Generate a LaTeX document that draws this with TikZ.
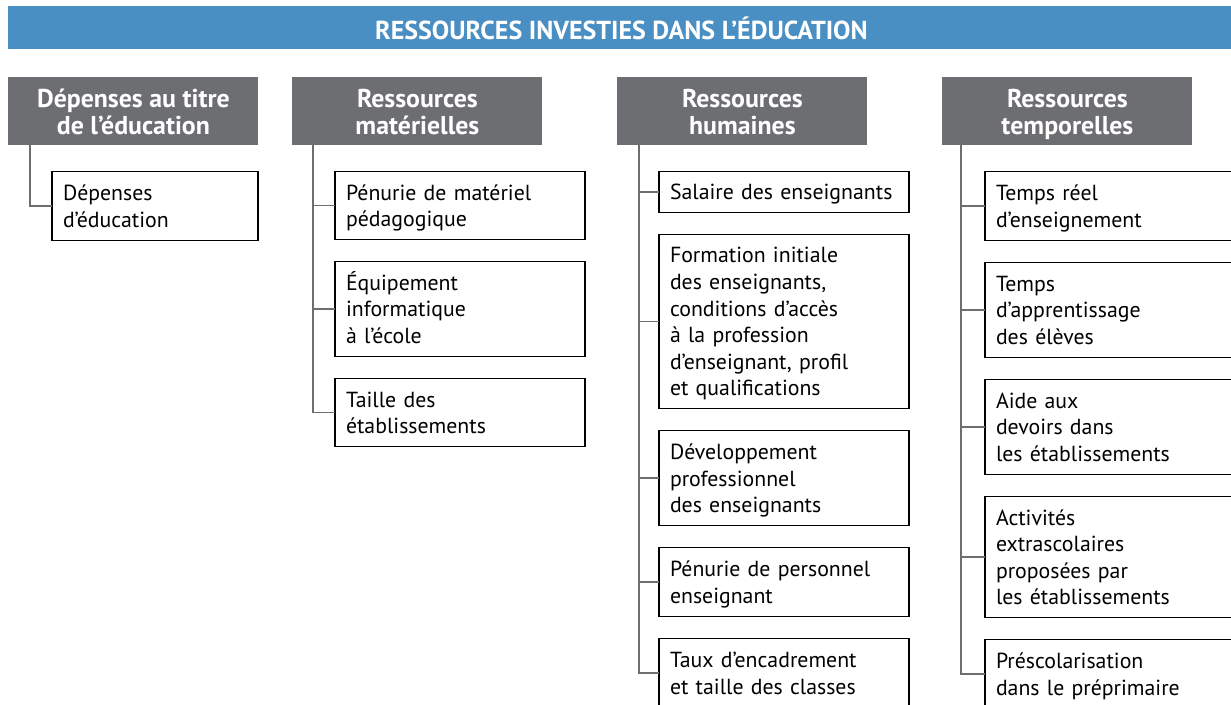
\documentclass[tikz,border=0pt]{standalone}
\usepackage{fontspec}
\setmainfont{PT Sans}
\usetikzlibrary{positioning,calc}
\definecolor{bandblue}{RGB}{74,143,196}
\definecolor{headgray}{RGB}{109,110,113}

\begin{document}
\begin{tikzpicture}[
  node distance=11pt,
  titre/.style={fill=bandblue,text=white,font=\bfseries\fontsize{13}{14}\selectfont,minimum width=613pt,minimum height=21.5pt,inner sep=0pt,anchor=north west},
  hd/.style={fill=headgray,text=white,font=\bfseries\fontsize{12.9}{13.5}\selectfont,align=center,minimum width=125pt,minimum height=33.75pt,inner sep=0pt,anchor=north west,
    execute at begin node=\rule{0pt}{27pt},execute at end node=\rule[-3.3pt]{0pt}{3.3pt}},
  bx/.style={draw,line width=0.75pt,outer sep=0pt,align=left,text width=114pt,inner xsep=5.5pt,inner ysep=0pt,font=\fontsize{10.9}{13.3}\selectfont,
    execute at begin node=\rule{0pt}{11pt},execute at end node=\rule[-2.8pt]{0pt}{2.8pt}},
  tr/.style={draw=headgray,line width=0.75pt}
]
\useasboundingbox (0,0) rectangle (615.5pt,-352.5pt);
\clip (0,0) rectangle (615.5pt,-352.5pt);

\node[titre] (titre) at (4pt,-3pt) {RESSOURCES INVESTIES DANS L’ÉDUCATION};

% en-têtes des quatre colonnes
\node[hd] (h1) at (4pt,-38.5pt) {Dépenses au titre\\de l’éducation};
\node[hd] (h2) at (146pt,-38.5pt) {Ressources\\matérielles};
\node[hd] (h3) at (308.5pt,-38.5pt) {Ressources\\humaines};
\node[hd] (h4) at (471pt,-38.5pt) {Ressources\\temporelles};

% colonne 1
\node[bx,text width=92pt,minimum height=34.5pt,below right=13pt and 22pt of h1.south west] (b11) {Dépenses\\d’éducation};

% colonne 2
\node[bx,minimum height=34pt,below right=13pt and 21.5pt of h2.south west] (b21) {Pénurie de matériel\\pédagogique};
\node[bx,minimum height=47.5pt,below=of b21] (b22) {Équipement\\informatique\\à l’école};
\node[bx,minimum height=34pt,below=of b22] (b23) {Taille des\\établissements};

% colonne 3
\node[bx,minimum height=20.5pt,below right=13pt and 21pt of h3.south west] (b31) {Salaire des enseignants};
\node[bx,minimum height=87pt,below=of b31] (b32) {Formation initiale\\des enseignants,\\conditions d’accès\\à la profession\\d’enseignant, profil\\et qualifications};
\node[bx,minimum height=47.5pt,below=of b32] (b33) {Développement\\professionnel\\des enseignants};
\node[bx,minimum height=34.5pt,below=of b33] (b34) {Pénurie de personnel\\enseignant};
\node[bx,minimum height=34.5pt,below=of b34] (b35) {Taux d’encadrement\\et taille des classes};

% colonne 4
\node[bx,minimum height=34.5pt,below right=13pt and 21.5pt of h4.south west] (b41) {Temps réel\\d’enseignement};
\node[bx,minimum height=47.5pt,below=of b41] (b42) {Temps\\d’apprentissage\\des élèves};
\node[bx,minimum height=47.5pt,below=of b42] (b43) {Aide aux\\devoirs dans\\les établissements};
\node[bx,minimum height=60.5pt,below=of b43] (b44) {Activités\\extrascolaires\\proposées par\\les établissements};
\node[bx,minimum height=34.5pt,below=of b44] (b45) {Préscolarisation\\dans le préprimaire};

% arborescence
\coordinate (t1) at ($(h1.south west)+(11pt,0)$);
\coordinate (t2) at ($(h2.south west)+(10.5pt,0)$);
\coordinate (t3) at ($(h3.south west)+(11pt,0)$);
\coordinate (t4) at ($(h4.south west)+(9.5pt,0)$);
\draw[tr] (t1) |- (b11.west);
\foreach \i in {1,2,3} \draw[tr] (t2) |- (b2\i.west);
\foreach \i in {1,...,5} \draw[tr] (t3) |- (b3\i.west);
\foreach \i in {1,...,5} \draw[tr] (t4) |- (b4\i.west);
\end{tikzpicture}
\end{document}
